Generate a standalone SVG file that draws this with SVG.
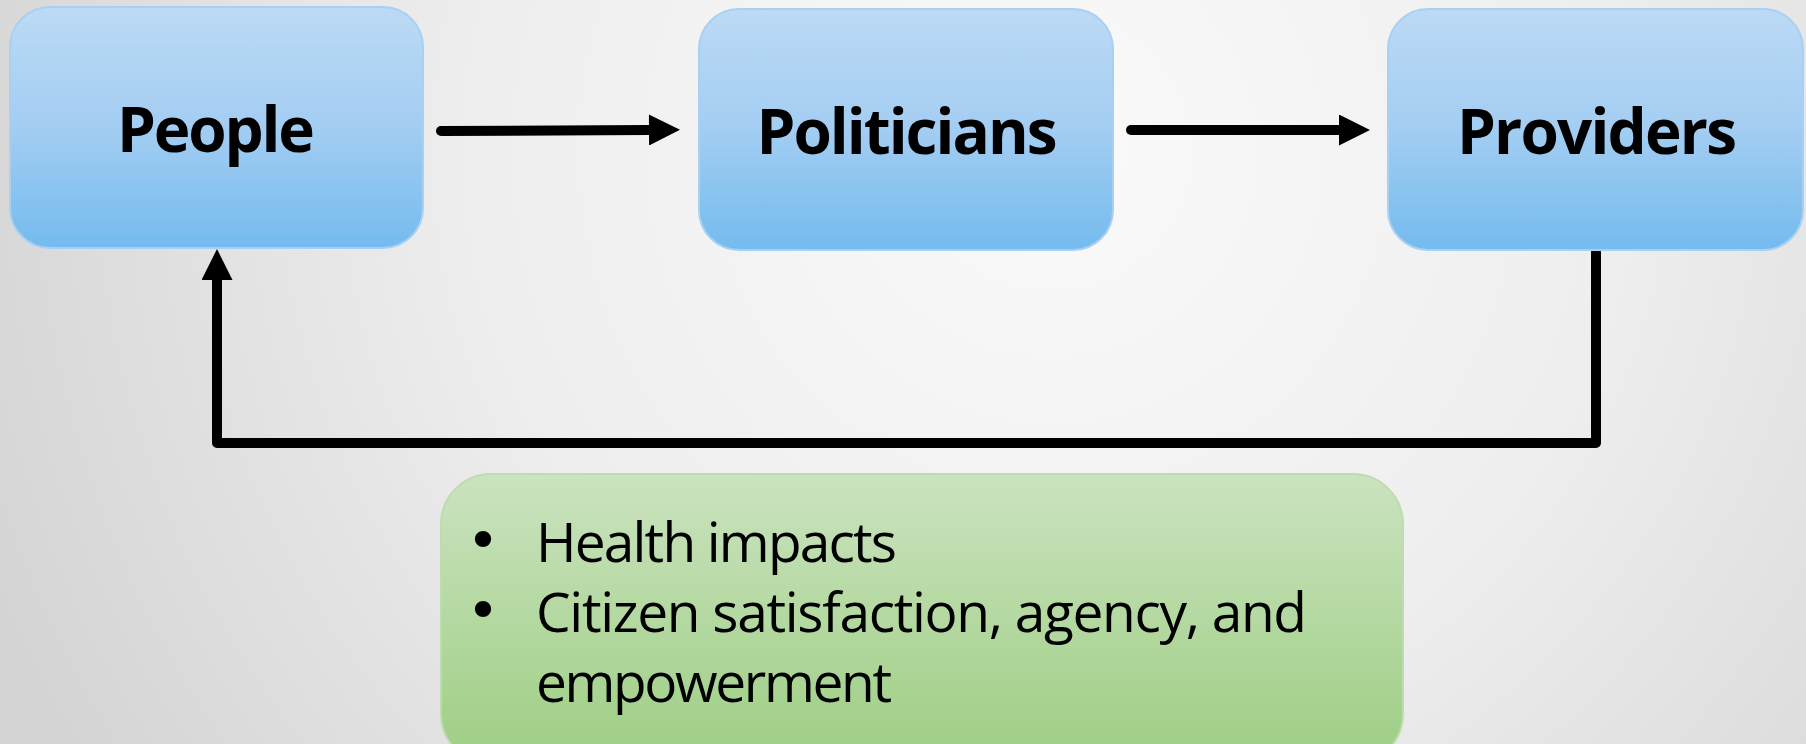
<svg xmlns="http://www.w3.org/2000/svg" width="1806" height="744" viewBox="0 0 1806 744">
  <defs>
    <radialGradient id="bg" gradientUnits="userSpaceOnUse" cx="1050" cy="150" r="1150">
      <stop offset="0" stop-color="#fafafa"/>
      <stop offset="0.5" stop-color="#eeeeee"/>
      <stop offset="1" stop-color="#d4d4d4"/>
    </radialGradient>
    <linearGradient id="blue" x1="0" y1="0" x2="0" y2="1">
      <stop offset="0" stop-color="#bcdaf5"/>
      <stop offset="0.5" stop-color="#a3cdf2"/>
      <stop offset="1" stop-color="#74bbee"/>
    </linearGradient>
    <linearGradient id="green" x1="0" y1="0" x2="0" y2="1">
      <stop offset="0" stop-color="#cbe3bf"/>
      <stop offset="1" stop-color="#9dce83"/>
    </linearGradient>
    <marker id="arrow" viewBox="0 0 10 10" refX="0" refY="5" markerWidth="3.2" markerHeight="3.1" markerUnits="strokeWidth" orient="auto">
      <path d="M0,0 L10,5 L0,10 Z" fill="#000"/>
    </marker>
    <style>
      .box { fill: url(#blue); stroke: #a8d0f2; stroke-width: 2; }
      .title { font-family: "Open Sans", "Noto Sans", "DejaVu Sans", sans-serif; font-weight: bold; font-size: 62px; fill: #000; }
      .body { font-family: "Open Sans", "Noto Sans", "DejaVu Sans", sans-serif; font-size: 55px; fill: #000; }
      .bullet { font-family: "DejaVu Sans", sans-serif; font-size: 56px; fill: #000; }
      .conn { fill: none; stroke: #000; stroke-width: 10; stroke-linecap: round; stroke-linejoin: round; }
    </style>
  </defs>
  <rect width="1806" height="744" fill="url(#bg)"/>

  <g id="connectors">
    <line class="conn" x1="441" y1="131" x2="649" y2="130" marker-end="url(#arrow)"/>
    <line class="conn" x1="1131" y1="130" x2="1339" y2="130" marker-end="url(#arrow)"/>
    <polyline class="conn" points="1596,252 1596,443 217,443 217,280" marker-end="url(#arrow)"/>
  </g>

  <g id="people">
    <rect class="box" x="10" y="7" width="413" height="241" rx="40"/>
    <text class="title" x="216" y="152" text-anchor="middle" textLength="198">People</text>
  </g>
  <g id="politicians">
    <rect class="box" x="699" y="9" width="414" height="241" rx="40"/>
    <text class="title" x="907" y="154" text-anchor="middle" textLength="301">Politicians</text>
  </g>
  <g id="providers">
    <rect class="box" x="1388" y="9" width="415" height="241" rx="40"/>
    <text class="title" x="1597" y="154" text-anchor="middle" textLength="280">Providers</text>
  </g>

  <g id="outcomes">
    <rect x="441" y="474" width="962" height="290" rx="50" fill="url(#green)" stroke="#bfdcb0" stroke-width="2"/>
    <text class="bullet" x="483" y="560" text-anchor="middle">•</text>
    <text class="bullet" x="483" y="630" text-anchor="middle">•</text>
    <text class="body" x="536" y="562" textLength="361">Health impacts</text>
    <text class="body" x="536" y="632" textLength="771">Citizen satisfaction, agency, and</text>
    <text class="body" x="536" y="702" textLength="356">empowerment</text>
  </g>
</svg>
